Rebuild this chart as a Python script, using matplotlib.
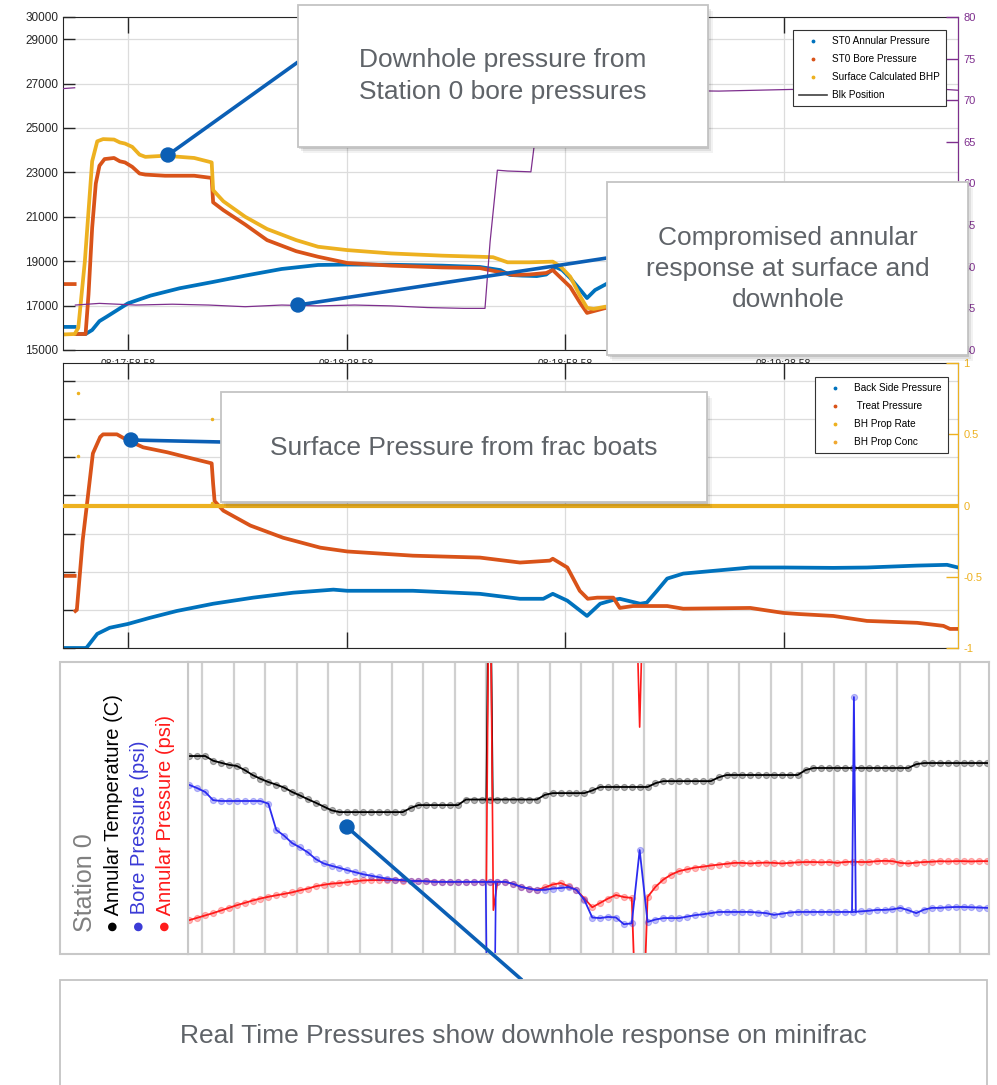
import numpy as np
import matplotlib
matplotlib.use('Agg')
import matplotlib.pyplot as plt
from matplotlib.lines import Line2D
from matplotlib.patches import Rectangle, Circle
from matplotlib import font_manager

plt.rcParams['font.family'] = ['Liberation Sans', 'DejaVu Sans']
_names = {f.name for f in font_manager.fontManager.ttflist}
if 'Liberation Sans Narrow' in _names:
    NARROW = ['Liberation Sans Narrow', 'DejaVu Sans']
    FS_LEG, FS_TICK, FS_XT = 8.5, 9.5, 8.5
else:
    NARROW = ['Liberation Sans', 'DejaVu Sans']
    FS_LEG, FS_TICK, FS_XT = 7.2, 8.5, 7.5

W, H, DPI = 997, 1085, 100
nan = np.nan

# ---------------- shared time axis (seconds from left edge) ----------------
tick_times = [8.9, 38.9, 68.9, 98.9]
tick_labels = ['08:17:58.58', '08:18:28.58', '08:18:58.58', '08:19:28.58']

# ---------------- top panel ----------------
top_left_ticks = [15000, 17000, 19000, 21000, 23000, 25000, 27000, 29000, 30000]
top_right_ticks = [40, 45, 50, 55, 60, 65, 70, 75, 80]

ann_t = [0, 1.6, 1.7, 1.8, 3.1, 4.0, 5.0, 6.0, 8.9, 12, 16, 20.5, 25, 30, 35, 39, 45, 52, 57.2, 60,
         61.3, 63, 65, 66.3, 67.6, 68.5, 69.6, 71.0, 71.9, 73.0, 74.7, 77, 80, 85, 90, 100, 110, 122.8]
ann_p = [16040, 16040, nan, 15720, 15720, 15900, 16300, 16500, 17100, 17450, 17780, 18060, 18350,
         18650, 18830, 18850, 18840, 18800, 18740, 18600, 18380, 18350, 18330, 18400, 18740, 18600,
         18240, 17700, 17340, 17700, 18000, 18250, 18500, 18650, 18750, 18800, 18830, 18850]

bore_t = [0, 1.6, 1.7, 1.8, 3.1, 3.5, 4.0, 4.5, 5.0, 5.7, 7.0, 7.8, 8.5, 9.5, 10.5, 11.3, 14, 18,
          20.4, 20.6, 22, 25, 28, 32, 35, 39, 45, 52, 57.2, 61.8, 64, 66.3, 67.2, 69.6, 71.0, 71.9,
          72.8, 74.4, 77, 80, 85, 90, 100, 110, 122.8]
bore_p = [17970, 17970, nan, 15720, 15720, 17500, 20500, 22500, 23300, 23600, 23650, 23500, 23450,
          23250, 22950, 22900, 22850, 22850, 22750, 21650, 21300, 20650, 19950, 19450, 19200, 18920,
          18800, 18720, 18690, 18380, 18400, 18470, 18600, 17840, 17100, 16670, 16750, 16890, 16900,
          16850, 16850, 16800, 16750, 16650, 16450]

bhp_t = [0, 1.6, 2.1, 3.0, 4.0, 4.7, 5.5, 7.0, 7.8, 8.5, 9.5, 10.5, 11.3, 14, 18, 20.4, 20.6, 22,
         25, 28, 32, 35, 39, 45, 52, 57.2, 59, 61, 64, 67.2, 68.3, 69.6, 71.0, 71.9, 72.8, 74.4, 77,
         80, 85, 90, 100, 110, 122.8]
bhp_p = [15700, 15720, 16000, 19000, 23500, 24400, 24500, 24480, 24350, 24300, 24150, 23800, 23700,
         23750, 23650, 23450, 22200, 21700, 21000, 20450, 19950, 19650, 19500, 19350, 19250, 19200,
         19180, 18950, 18950, 18980, 18750, 18300, 17400, 16900, 16850, 16950, 16950, 16900, 16950,
         16900, 16850, 16750, 16600]

blk_t = [0, 1.6, 1.65, 1.7, 5, 10, 15, 20, 25, 30, 35, 40, 45, 50, 55, 57.9, 58.6, 59.6, 61, 64.2,
         65.0, 65.8, 70, 80, 90, 100, 110, 116, 122.8]
blk_v = [71.4, 71.5, nan, 45.4, 45.6, 45.4, 45.5, 45.4, 45.2, 45.4, 45.3, 45.4, 45.3, 45.1, 45.0,
         45.0, 53.0, 61.6, 61.5, 61.4, 67.0, 71.3, 71.4, 71.2, 71.1, 71.3, 71.0, 71.6, 71.2]

# ---------------- middle panel ----------------
mid_left_ticks = [0, 1000, 2000, 3000, 4000, 5000, 6000, 7000]
mid_right_ticks = [-1, -0.5, 0, 0.5, 1]
mid_right_labels = ['-1', '-0.5', '0', '0.5', '1']

treat_t = [0, 1.6, 1.65, 1.7, 1.9, 2.7, 3.4, 4.1, 5.1, 5.5, 7.4, 8.8, 11, 14.3, 17, 20.4, 20.6,
           20.8, 22, 25.7, 30.2, 35.3, 39, 48, 57.2, 62.7, 66.8, 67.2, 69.2, 70.9, 72, 73.3, 75.5,
           76.4, 78.2, 82.9, 85.1, 94.3, 98.8, 101, 105.7, 110.3, 117.2, 120.8, 121.7, 122.8]
treat_p = [1890, 1890, nan, 970, 1000, 2820, 3950, 5100, 5530, 5600, 5600, 5450, 5260, 5130, 5000,
           4840, 4300, 3850, 3600, 3210, 2890, 2630, 2530, 2420, 2370, 2240, 2290, 2340, 2110, 1500,
           1290, 1320, 1320, 1050, 1100, 1100, 1030, 1050, 920, 890, 840, 710, 660, 580, 500, 500]

back_t = [0, 3.1, 3.2, 4.7, 6.4, 8.9, 11.9, 15.6, 20.6, 26.1, 31.6, 37.1, 39, 48, 57.2, 62.7, 65.9,
          67.2, 69.2, 71.9, 73.7, 75.5, 76.4, 79.2, 80.1, 81.5, 82.9, 85.1, 89.7, 94.3, 98.8, 105.7,
          110.3, 117.2, 121.3, 122.8]
back_p = [0, 0, 0, 370, 530, 630, 790, 970, 1160, 1320, 1450, 1530, 1500, 1500, 1420, 1290, 1290,
          1420, 1240, 840, 1160, 1260, 1290, 1160, 1190, 1500, 1820, 1950, 2030, 2110, 2110, 2100,
          2110, 2160, 2180, 2110]

rate_t = [0, 122.8]
rate_v = [0, 0]
conc_t = [2.0, 2.0, 20.4, 20.4]
conc_v = [0.79, 0.35, 0.61, 0.02]

# ---------------- Station 0 panel (normalised 0-100 scale) ----------------
stn_temp = [67.8, 67.8, 67.8, 66.2, 65.5, 64.8, 64.4, 63.0, 61.3, 60.0, 58.9, 58.0, 57.0, 55.5, 54.3,
            53.0, 51.8, 50.5, 49.2, 48.6, 48.6, 48.6, 48.6, 48.6, 48.6, 48.6, 48.6, 48.6, 50.0, 51.0,
            51.0, 51.0, 51.0, 51.0, 51.0, 52.9, 52.9, 52.9, 52.9, 52.9, 52.9, 52.9, 52.9, 52.9, 52.9,
            54.5, 55.1, 55.1, 55.1, 55.1, 55.1, 56.0, 57.2, 57.2, 57.2, 57.2, 57.2, 57.2, 57.2, 58.5,
            59.2, 59.2, 59.2, 59.2, 59.2, 59.2, 59.2, 60.5, 61.3, 61.3, 61.3, 61.3, 61.3, 61.3, 61.3,
            61.3, 61.3, 61.3, 63.0, 63.7, 63.7, 63.7, 63.7, 63.7, 63.7, 63.7, 63.7, 63.7, 63.7, 63.7,
            63.7, 63.7, 65.0, 65.4, 65.4, 65.4, 65.4, 65.4, 65.4, 65.4, 65.4, 65.4]
stn_bore = [57.9, 56.8, 55.5, 52.7, 52.4, 52.4, 52.4, 52.4, 52.4, 52.4, 51.5, 42.5, 40.5, 38.0, 36.5,
            34.8, 32.5, 31.0, 30.2, 29.5, 28.7, 28.0, 27.3, 26.8, 26.3, 25.8, 25.5, 25.3, 25.0, 25.0,
            24.9, 24.7, 24.7, 24.7, 24.7, 24.7, 24.7, 24.7, 24.7, 24.7, 24.7, 24.0, 23.0, 22.4,
            21.9, 22.0, 22.4, 22.6, 22.9, 22.0, 18.5, 12.5, 12.3, 12.7, 12.5, 10.2, 10.5, 35.6, 11.0,
            11.8, 12.3, 12.3, 12.3, 12.8, 13.3, 13.6, 14.0, 14.4, 14.4, 14.4, 14.4, 14.4, 14.2, 14.0,
            13.4, 13.8, 14.2, 14.4, 14.4, 14.4, 14.4, 14.4, 14.4, 14.4, 14.4, 14.6, 14.8, 15.1, 15.1,
            15.3, 15.8, 15.0, 14.0, 15.2, 15.8, 15.8, 16.0, 16.1, 16.1, 16.0, 15.9, 15.8]
stn_ann = [11.6, 12.4, 13.2, 14.0, 14.9, 15.8, 16.7, 17.5, 18.3, 19.0, 19.6, 20.1, 20.6, 21.1, 21.8,
           22.4, 23.2, 23.7, 24.1, 24.3, 24.6, 24.9, 25.2, 25.3, 25.3, 25.3, 25.3, 25.1, 25.0, 25.0,
           24.9, 24.8, 24.7, 24.7, 24.7, 24.7, 24.7, 24.7, 24.7, 24.7, 24.7, 24.0, 23.0, 22.4, 21.9,
           22.8, 23.8, 24.3, 23.2, 21.9, 19.0, 16.0, 17.5, 19.0, 20.2, 19.5, 19.2, -60.0, 19.5, 23.0,
           25.5, 27.2, 28.4, 29.0, 29.6, 29.9, 30.3, 30.6, 30.9, 31.2, 31.2, 31.0, 31.2, 31.3, 31.2,
           31.0, 31.2, 31.4, 31.5, 31.5, 31.4, 31.5, 31.2, 31.5, 31.6, 31.5, 31.5, 31.8, 31.9, 31.8,
           31.2, 31.0, 31.3, 31.5, 31.6, 31.8, 31.7, 31.8, 31.8, 31.7, 31.8, 31.8]
# sensor glitches (short spikes between regular samples)
temp_glitch_t = [9.0, 9.1, 9.2]
temp_glitch_v = [52.9, 160.0, 52.9]
ann_glitch1_t = [9.0, 9.1, 9.22, 9.35]
ann_glitch1_v = [24.7, 160.0, 15.0, 24.7]
bore_glitch1_t = [8.98, 9.03, 9.25, 9.3]
bore_glitch1_v = [24.7, -30.0, -30.0, 24.7]
ann_glitch2_t = [13.7, 13.85, 14.0]
ann_glitch2_v = [140.0, 77.7, 140.0]
bore_glitch2_t = [20.57, 20.63, 20.69]
bore_glitch2_v = [14.4, 88.0, 14.4]
stn_grid = list(range(25))

# ---------------- colours ----------------
C_BLUE, C_ORANGE, C_YELLOW, C_PURPLE = '#0072BD', '#D95319', '#EDB120', '#7E2F8E'
C_CALL = '#0b5fb5'
C_TXT = '#5f6368'
DARK = '#262626'
C_TEMP, C_BORE, C_ANN = 'black', '#2b2bf0', '#ff1a1a'

fig = plt.figure(figsize=(W / DPI, H / DPI), dpi=DPI)


def rect(x0, y0, x1, y1):
    return [x0 / W, 1 - y1 / H, (x1 - x0) / W, (y1 - y0) / H]


# ================= top panel =================
ax1 = fig.add_axes(rect(63, 17, 958, 350))
ax1b = ax1.twinx()
ax1.plot(ann_t, ann_p, color=C_BLUE, lw=2.7)
ax1.plot(bore_t, bore_p, color=C_ORANGE, lw=2.7)
ax1.plot(bhp_t, bhp_p, color=C_YELLOW, lw=2.7)
ax1b.plot(blk_t, blk_v, color=C_PURPLE, lw=0.9)
ax1.set_ylim(15000, 30000)
ax1.set_yticks(top_left_ticks)
ax1b.set_ylim(40, 80)
ax1b.set_yticks(top_right_ticks)

# ================= middle panel =================
ax2 = fig.add_axes(rect(63, 363, 958, 648))
ax2b = ax2.twinx()
ax2.plot(back_t, back_p, color=C_BLUE, lw=2.7)
ax2.plot(treat_t, treat_p, color=C_ORANGE, lw=2.7)
ax2b.plot(rate_t, rate_v, color=C_YELLOW, lw=3)
ax2b.plot(conc_t, conc_v, ls='none', marker='.', ms=3, color=C_YELLOW)
ax2.set_ylim(0, 7470)
ax2.set_yticks(mid_left_ticks)
ax2.set_yticklabels([])
ax2b.set_ylim(-1, 1)
ax2b.set_yticks(mid_right_ticks)
ax2b.set_yticklabels(mid_right_labels)

for a in (ax1, ax2):
    a.set_xlim(0, 122.8)
    a.set_xticks(tick_times)
    a.grid(True, color='#dcdcdc', lw=0.9)
    a.set_axisbelow(True)
    a.tick_params(axis='x', direction='in', length=11.5, width=1, top=True, colors=DARK)
    a.tick_params(axis='y', direction='in', length=8.5, width=1, colors=DARK, labelsize=FS_TICK,
                  pad=3.5)
    for s in ('left', 'bottom', 'top'):
        a.spines[s].set_color(DARK)
ax1.set_xticklabels(tick_labels, fontsize=FS_XT, family=NARROW)
for lab in ax1.get_yticklabels():
    lab.set_family(NARROW)
ax1.tick_params(axis='x', pad=6.5)
ax2.set_xticklabels([])

for a, col in ((ax1b, C_PURPLE), (ax2b, C_YELLOW)):
    a.tick_params(axis='y', direction='in', length=8.5, width=1, colors=col, labelsize=FS_TICK - 0.5,
                  pad=4)
    for lab in a.get_yticklabels():
        lab.set_family(NARROW)
    a.spines['right'].set_color(col)
    for s in ('left', 'bottom', 'top'):
        a.spines[s].set_visible(False)

leg_kw = dict(loc='upper right', borderaxespad=0, prop={'family': NARROW, 'size': FS_LEG},
              fancybox=False, framealpha=1, edgecolor='#333333', handlelength=2.8,
              labelspacing=0.8, borderpad=0.62, handletextpad=0.5)
leg1 = ax1b.legend(handles=[
    Line2D([], [], ls='none', marker='.', ms=3.5, color=C_BLUE, label='ST0 Annular Pressure'),
    Line2D([], [], ls='none', marker='.', ms=3.5, color=C_ORANGE, label='ST0 Bore Pressure'),
    Line2D([], [], ls='none', marker='.', ms=3.5, color=C_YELLOW, label='Surface Calculated BHP'),
    Line2D([], [], color='#404040', lw=1.2, label='Blk Position')],
    bbox_to_anchor=(0.987, 0.961), **leg_kw)
leg1.get_frame().set_linewidth(0.8)

leg2 = ax2b.legend(handles=[
    Line2D([], [], ls='none', marker='.', ms=3.5, color=C_BLUE, label='Back Side Pressure'),
    Line2D([], [], ls='none', marker='.', ms=3.5, color=C_ORANGE, label=' Treat Pressure'),
    Line2D([], [], ls='none', marker='.', ms=3.5, color=C_YELLOW, label='BH Prop Rate'),
    Line2D([], [], ls='none', marker='.', ms=3.5, color='#F0A830', label='BH Prop Conc')],
    bbox_to_anchor=(0.989, 0.951), **leg_kw)
leg2.get_frame().set_linewidth(0.8)

# white background of the lower screenshot
fig.add_artist(Rectangle((0, 0), 1, 1 - 652 / H, transform=fig.transFigure,
                         facecolor='white', edgecolor='none', zorder=0.5))

# ================= Station 0 panel =================
ax3 = fig.add_axes(rect(188, 662, 989, 954))
ax3.set_zorder(1)
st_time = -0.4 + 0.25 * np.arange(len(stn_temp))
mk = dict(marker='o', ms=4.4, mew=0.8, lw=1.3)
ax3.plot(temp_glitch_t, temp_glitch_v, color=C_TEMP, lw=1.3)
ax3.plot(st_time, stn_temp, color=C_TEMP, mfc=(0, 0, 0, 0.3), **mk)
ax3.plot(ann_glitch1_t, ann_glitch1_v, color=C_ANN, lw=1.2)
ax3.plot(ann_glitch2_t, ann_glitch2_v, color=C_ANN, lw=1.2)
ax3.plot(st_time, stn_ann, color=C_ANN, mfc=(1, 0.1, 0.1, 0.3), **mk)
ax3.plot(bore_glitch1_t, bore_glitch1_v, color=C_BORE, lw=1.2)
ax3.plot(bore_glitch2_t, bore_glitch2_v, color=C_BORE, mfc=(0.17, 0.17, 0.94, 0.3),
         markevery=[1], **mk)
ax3.plot(st_time, stn_bore, color=C_BORE, mfc=(0.17, 0.17, 0.94, 0.3), **mk)
ax3.set_xlim(-0.443, 24.905)
ax3.set_ylim(0, 100)
ax3.set_xticks(stn_grid)
ax3.set_yticks([])
ax3.tick_params(axis='x', length=0, labelbottom=False)
ax3.grid(True, axis='x', color='#d0d0d0', lw=1.6)
ax3.set_axisbelow(True)
for s in ax3.spines.values():
    s.set_color('#c8c8c8')
    s.set_linewidth(1.5)

# ================= overlay (annotations) =================
ov = fig.add_axes([0, 0, 1, 1])
ov.set_zorder(2)
ov.set_xlim(0, W)
ov.set_ylim(H, 0)
ov.axis('off')
ov.patch.set_alpha(0)


def callout(x0, y0, x1, y1):
    ov.plot([x0, x1], [y0, y1], color=C_CALL, lw=2.6, solid_capstyle='butt', zorder=3)
    ov.add_patch(Circle((x0, y0), 7, color=C_CALL, zorder=4))


def box(x0, y0, x1, y1, shadow=True, ec='#c4c4c4'):
    if shadow:
        for d, a in ((7, 0.05), (5, 0.08), (3, 0.12)):
            ov.add_patch(Rectangle((x0 + d - 2, y0 + d - 1), x1 - x0, y1 - y0, facecolor='black',
                                   alpha=a, edgecolor='none', zorder=5))
    ov.add_patch(Rectangle((x0, y0), x1 - x0, y1 - y0, facecolor='white', edgecolor=ec,
                           lw=1.3, zorder=6))


callout(168, 155, 298, 62)
callout(298, 305, 607, 258)
callout(131, 440, 222, 442)
callout(347, 827, 522, 980)

box(298, 5, 708, 147)
ov.text(503, 76, 'Downhole pressure from\nStation 0 bore pressures', ha='center', va='center',
        fontsize=19, color=C_TXT, zorder=7, linespacing=1.38)
box(607, 182, 968, 355)
ov.text(788, 269, 'Compromised annular\nresponse at surface and\ndownhole', ha='center',
        va='center', fontsize=19, color=C_TXT, zorder=7, linespacing=1.38)
box(221, 392, 707, 502)
ov.text(464, 448, 'Surface Pressure from frac boats', ha='center', va='center', fontsize=19,
        color=C_TXT, zorder=7)

# station 0 legend box
ov.add_patch(Rectangle((60, 662), 128, 292, facecolor='white', edgecolor='#c8c8c8', lw=1.5, zorder=3))
ov.text(85, 932, 'Station 0', rotation=90, ha='center', va='bottom', fontsize=18,
        color='#808080', zorder=4)
ov.text(113, 932, '\u25cf Annular Temperature (C)', rotation=90, ha='center', va='bottom',
        fontsize=14.5, color='black', zorder=4)
ov.text(139, 932, '\u25cf Bore Pressure (psi)', rotation=90, ha='center', va='bottom',
        fontsize=14.5, color='#3a3ad6', zorder=4)
ov.text(165, 932, '\u25cf Annular Pressure (psi)', rotation=90, ha='center', va='bottom',
        fontsize=14.5, color='#ff1a1a', zorder=4)

# caption box
box(60, 980, 987, 1110, shadow=False)
ov.text(523, 1036, 'Real Time Pressures show downhole response on minifrac', ha='center',
        va='center', fontsize=19, color=C_TXT, zorder=7)

fig.savefig('out.png', dpi=DPI)
